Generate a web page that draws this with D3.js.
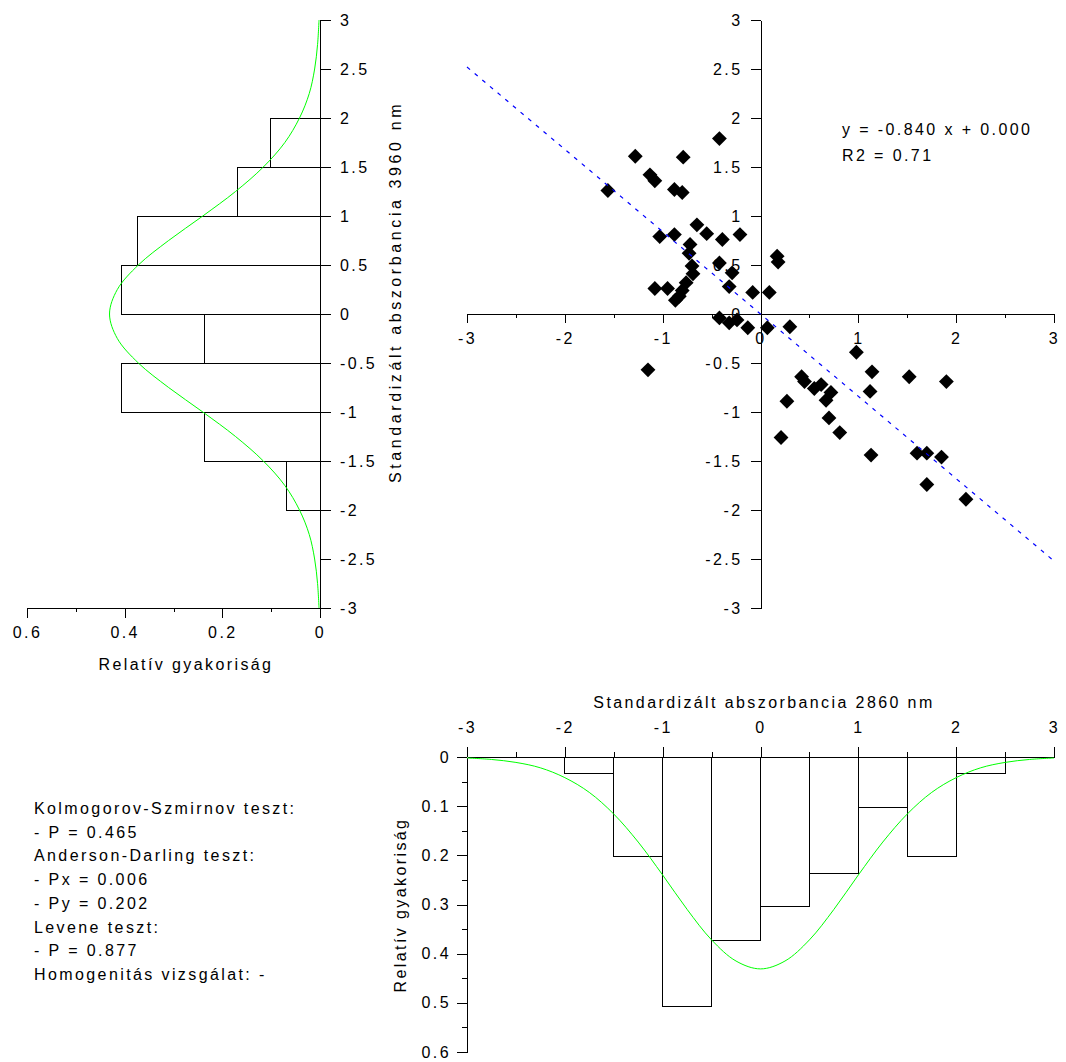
<!DOCTYPE html>
<html><head><meta charset="utf-8">
<script src="https://cdn.jsdelivr.net/npm/d3@7"></script>
<style>
body{margin:0;background:#fff;}
svg{display:block;}
text{font-family:"Liberation Sans",Arial,sans-serif;font-size:16px;letter-spacing:2.4px;fill:#000;}
text.wide{letter-spacing:3.6px;}
</style></head><body>
<svg id="c" width="1066" height="1062"></svg>
<script>
// ---- data ----
const scatterX = [-0.42,-1.28,-0.79,-1.13,-1.08,-1.56,-0.88,-0.80,-1.03,-0.88,-0.65,-0.55,-0.39,-0.21,-0.72,-0.73,0.17,0.18,-0.42,-0.70,-0.69,-0.76,-0.80,-0.83,-0.87,-0.95,-1.08,-0.29,-0.32,-0.08,0.09,
  -0.42,-0.32,-0.24,-0.13,0.07,0.30,0.98,1.14,1.52,1.90,0.42,0.45,0.55,0.62,0.72,0.67,1.12,0.27,-1.15,0.70,0.81,0.21,1.13,1.60,1.70,1.85,1.70,2.10];
const scatterY = [1.79,1.61,1.60,1.42,1.36,1.26,1.27,1.24,0.79,0.81,0.91,0.82,0.76,0.81,0.71,0.62,0.59,0.53,0.52,0.49,0.41,0.32,0.24,0.18,0.14,0.26,0.26,0.42,0.28,0.22,0.22,
  -0.04,-0.09,-0.06,-0.14,-0.14,-0.13,-0.39,-0.59,-0.64,-0.69,-0.64,-0.69,-0.76,-0.72,-0.80,-0.88,-0.79,-0.89,-0.57,-1.06,-1.21,-1.26,-1.44,-1.42,-1.42,-1.46,-1.74,-1.89];
const binEdges = [-3,-2.5,-2,-1.5,-1,-0.5,0,0.5,1,1.5,2,2.5];
const binWidth = 0.5;
const histXFreq = [0,0,0.034,0.203,0.508,0.373,0.305,0.237,0.102,0.203,0.034,0];
const histYFreq = [0,0,0.068,0.237,0.407,0.237,0.407,0.373,0.169,0.102,0,0];
const curveX = [-3,-2.75,-2.5,-2.25,-2,-1.75,-1.5,-1.25,-1,-0.75,-0.5,-0.25,0,0.25,0.5,0.75,1,1.25,1.5,1.75,2,2.25,2.5,2.75,3];
const curveY = [0.002,0.005,0.011,0.022,0.042,0.072,0.116,0.173,0.240,0.310,0.372,0.415,0.431,0.415,0.372,0.310,0.240,0.173,0.116,0.072,0.042,0.022,0.011,0.005,0.002];
const regSlope = -0.840, regIntercept = 0.000;
const eqLines = ["y = -0.840 x + 0.000", "R2 = 0.71"];
const stdTicks = [-3,-2.5,-2,-1.5,-1,-0.5,0,0.5,1,1.5,2,2.5,3];
const stdMajor = [-3,-2,-1,0,1,2,3];
const stdMinor = [-2.5,-1.5,-0.5,0.5,1.5,2.5];
const freqTicksL = [0,0.2,0.4,0.6];
const freqMinorL = [0.1,0.3,0.5];
const freqTicksB = [0,0.1,0.2,0.3,0.4,0.5,0.6];
const freqMinorB = [0.05,0.15,0.25,0.35,0.45,0.55];
const titleX = "Standardizált abszorbancia 2860 nm";
const titleY = "Standardizált abszorbancia 3960 nm";
const titleFreq = "Relatív gyakoriság";
const statsLines = ["Kolmogorov-Szmirnov teszt:","- P = 0.465","Anderson-Darling teszt:","- Px = 0.006","- Py = 0.202","Levene teszt:","- P = 0.877","Homogenitás vizsgálat: -"];

// ---- scales ----
const svg = d3.select("#c");
const xS = d3.scaleLinear([-3,3],[467,1054]);
const yS = d3.scaleLinear([-3,3],[608,20]);
const fL = d3.scaleLinear([0,0.6],[320,27]);
const fB = d3.scaleLinear([0,0.6],[757,1052]);
const fmt = d => String(d);

function styleAxis(g){
  g.attr("font-size",null).attr("font-family",null);
  g.selectAll("path.domain,line").attr("stroke","#000").attr("shape-rendering","crispEdges");
  return g;
}
function minor(axis, vals, size){ return axis.tickValues(vals).tickSize(size).tickFormat("").tickSizeOuter(0); }

// ---- scatter axes ----
svg.append("g").attr("transform",`translate(0,${yS(0)})`)
  .call(d3.axisBottom(xS).tickValues(stdMajor).tickSize(9).tickPadding(10).tickSizeOuter(0).tickFormat(fmt)).call(styleAxis);
svg.append("g").attr("transform",`translate(0,${yS(0)})`)
  .call(minor(d3.axisBottom(xS), stdMinor, 4)).call(styleAxis);
svg.append("g").attr("transform",`translate(${xS(0)},0)`)
  .call(d3.axisLeft(yS).tickValues(stdTicks).tickSize(10).tickPadding(8).tickSizeOuter(0).tickFormat(fmt)).call(styleAxis);

// ---- scatter points ----
const pts = scatterX.map((x,i)=>({x, y: scatterY[i]}));
svg.append("g").selectAll("path").data(pts).join("path")
  .attr("d", d3.symbol().type(d3.symbolSquare).size(110))
  .attr("transform", d=>`translate(${xS(d.x)},${yS(d.y)}) rotate(45)`)
  .attr("fill","#000");

// regression line
svg.append("line")
  .attr("x1", xS(-3)).attr("y1", yS(regSlope*-3+regIntercept))
  .attr("x2", xS(3)).attr("y2", yS(regSlope*3+regIntercept))
  .attr("stroke","#0000ff").attr("stroke-width",1.2).attr("stroke-dasharray","4,6");

svg.append("g").selectAll("text").data(eqLines).join("text")
  .attr("x",842).attr("y",(d,i)=>135+i*26).text(d=>d);

// ---- left histogram ----
svg.append("g").attr("transform",`translate(${fL(0)},0)`)
  .call(d3.axisRight(yS).tickValues(stdTicks).tickSize(11).tickPadding(9).tickSizeOuter(0).tickFormat(fmt)).call(styleAxis);
svg.append("g").attr("transform",`translate(0,${yS(-3)})`)
  .call(d3.axisBottom(fL).tickValues(freqTicksL).tickSize(10).tickPadding(9).tickSizeOuter(0).tickFormat(fmt)).call(styleAxis);
svg.append("g").attr("transform",`translate(0,${yS(-3)})`)
  .call(minor(d3.axisBottom(fL), freqMinorL, 4)).call(styleAxis);

const binsL = binEdges.map((e,i)=>({e, v: histYFreq[i]})).filter(d=>d.v>0);
svg.append("g").selectAll("rect").data(binsL).join("rect")
  .attr("x", d=>fL(d.v)).attr("y", d=>yS(d.e+binWidth))
  .attr("width", d=>fL(0)-fL(d.v)).attr("height", d=>yS(d.e)-yS(d.e+binWidth))
  .attr("fill","none").attr("stroke","#000").attr("shape-rendering","crispEdges");

const curvePts = curveX.map((x,i)=>({x, y: curveY[i]}));
svg.append("path").datum(curvePts)
  .attr("d", d3.line().x(d=>fL(d.y)).y(d=>yS(d.x)).curve(d3.curveCatmullRom))
  .attr("fill","none").attr("stroke","#00ff00").attr("stroke-width",1);

svg.append("text").attr("class","wide").attr("transform",`translate(395,292) rotate(-90)`)
  .attr("text-anchor","middle").attr("dy","0.35em").text(titleY);
svg.append("text").attr("x",186).attr("y",664)
  .attr("text-anchor","middle").attr("dy","0.35em").text(titleFreq);

// ---- bottom histogram ----
svg.append("g").attr("transform",`translate(0,${fB(0)})`)
  .call(d3.axisTop(xS).tickValues(stdMajor).tickSize(10).tickPadding(14).tickSizeOuter(0).tickFormat(fmt)).call(styleAxis);
svg.append("g").attr("transform",`translate(0,${fB(0)})`)
  .call(minor(d3.axisTop(xS), stdMinor, 5)).call(styleAxis);
svg.append("g").attr("transform",`translate(${xS(-3)},0)`)
  .call(d3.axisLeft(fB).tickValues(freqTicksB).tickSize(10).tickPadding(6).tickSizeOuter(0).tickFormat(fmt)).call(styleAxis);
svg.append("g").attr("transform",`translate(${xS(-3)},0)`)
  .call(minor(d3.axisLeft(fB), freqMinorB, 5)).call(styleAxis);

const binsB = binEdges.map((e,i)=>({e, v: histXFreq[i]})).filter(d=>d.v>0);
svg.append("g").selectAll("rect").data(binsB).join("rect")
  .attr("x", d=>xS(d.e)).attr("y", fB(0))
  .attr("width", d=>xS(d.e+binWidth)-xS(d.e)).attr("height", d=>fB(d.v)-fB(0))
  .attr("fill","none").attr("stroke","#000").attr("shape-rendering","crispEdges");

svg.append("path").datum(curvePts)
  .attr("d", d3.line().x(d=>xS(d.x)).y(d=>fB(d.y)).curve(d3.curveCatmullRom))
  .attr("fill","none").attr("stroke","#00ff00").attr("stroke-width",1);

svg.append("text").attr("x",764).attr("y",702)
  .attr("text-anchor","middle").attr("dy","0.35em").text(titleX);
svg.append("text").attr("transform",`translate(400,905) rotate(-90)`)
  .attr("text-anchor","middle").attr("dy","0.35em").text(titleFreq);

// ---- stats text ----
svg.append("g").selectAll("text").data(statsLines).join("text")
  .attr("x",34).attr("y",(d,i)=>814+i*23.7).text(d=>d);
</script>
</body></html>
